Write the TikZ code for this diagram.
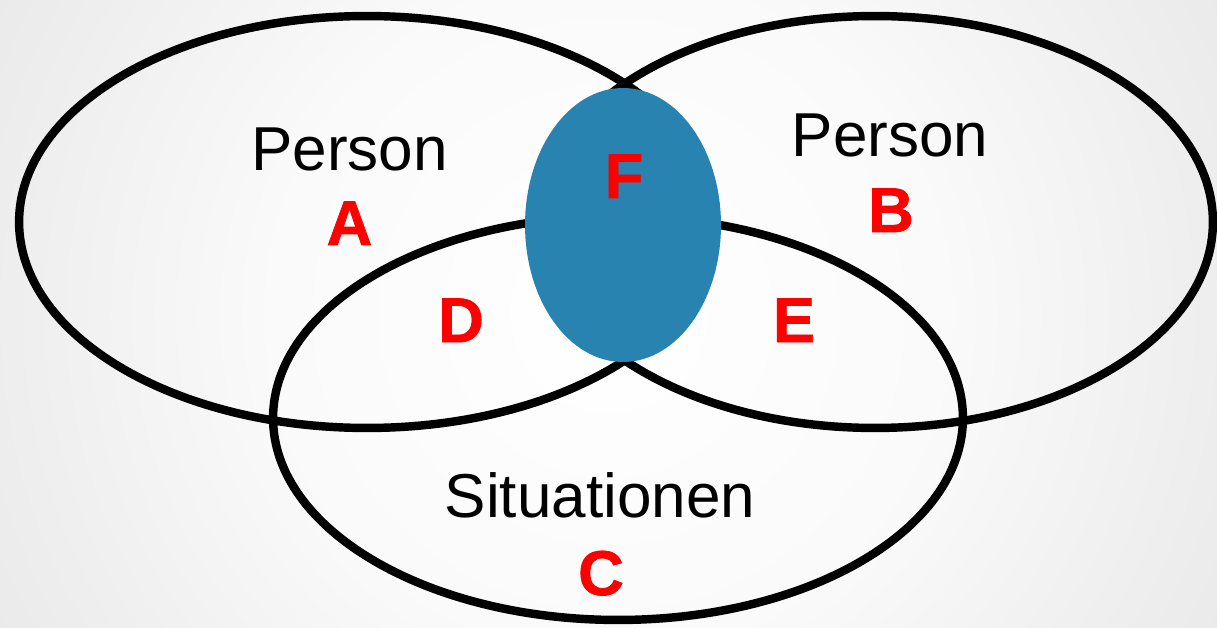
\documentclass[tikz,border=0pt]{standalone}
\usepackage{fontspec}
\setmainfont{Liberation Sans}
\newfontfamily\tagfont[BoldFeatures={FakeBold=1.2}]{Liberation Sans}
\usetikzlibrary{positioning}
\usetikzlibrary{shapes.geometric}
\definecolor{coreblue}{RGB}{40,131,176}
\definecolor{tagred}{RGB}{255,0,0}
\pgfdeclareradialshading{bgglow}{\pgfpoint{0bp}{0bp}}{color(0bp)=(white); color(12bp)=(black!2); color(22bp)=(black!7); color(43bp)=(black!17); color(50bp)=(black!24)}

\begin{document}
\begin{tikzpicture}[x=0.02cm, y=-0.02cm,
		venn/.style={ellipse, draw, line width=4.8pt, inner sep=0pt},
		word/.style={anchor=base, font=\fontsize{35.3}{42}\selectfont},
		tag/.style={anchor=base, text=tagred, font=\tagfont\bfseries\fontsize{36}{42}\selectfont}]
			\useasboundingbox (0,0) rectangle (1217,628);
			% Background
			\begin{scope}
				\clip (0,0) rectangle (1217,628);
				\shade[shading=bgglow] (-91.5,-386) rectangle (1308.5,1014);
			\end{scope}
			% Sets
			\node[venn, minimum width=13.92cm, minimum height=8.24cm] (setA) at (367,222) {};
			\node[venn, minimum width=13.52cm, minimum height=8.24cm] (setB) at (875,222) {};
			\node[venn, minimum width=13.8cm, minimum height=8.08cm] (setC) at (618,418) {};
			% Core
			\node[ellipse, fill=coreblue, inner sep=0pt, minimum width=3.92cm, minimum height=5.48cm] (core) at (623,225) {};
			% Labels
			\node[word] (persA) at (349.5,171) {Person};
			\node[word] (persB) at (890,157) {Person};
			\node[word] (sit) at (600,517) {Situationen};
			\node[tag] (tagA) at (349.5,245) {A};
			\node[tag] (tagB) at (891,232) {B};
			\node[tag] (tagC) at (601,595) {C};
			\node[tag] (tagD) at (461,342) {D};
			\node[tag] (tagE) at (794,342) {E};
			\node[tag] (tagF) at (624,198) {F};
		\end{tikzpicture}
\end{document}
